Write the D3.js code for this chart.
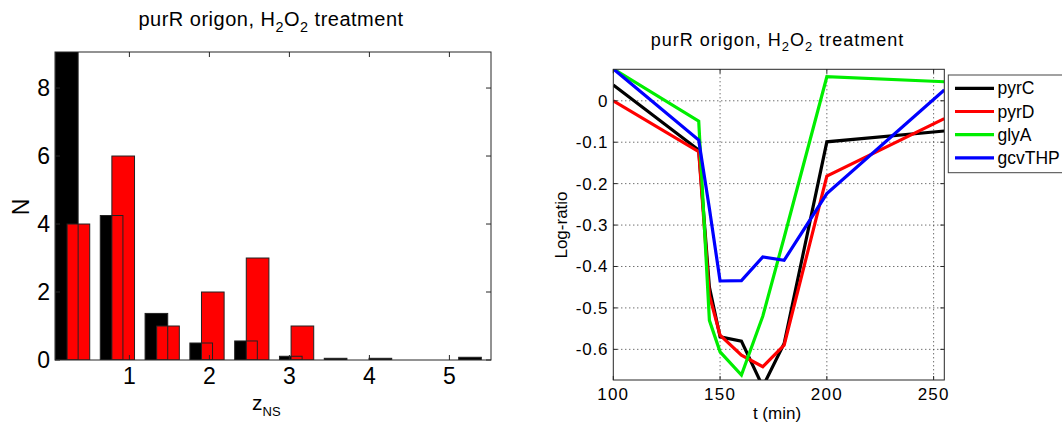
<!DOCTYPE html>
<html><head><meta charset="utf-8">
<script src="https://cdn.jsdelivr.net/npm/d3@7"></script>
<style>
body{margin:0;background:#fff;}
svg{display:block;font-family:Arial,"Liberation Sans",Helvetica,sans-serif;}
</style></head>
<body><svg id="c" width="1062" height="426"></svg>
<script>
// ---------- Left: histogram data ----------
const binCenters = [0.29,0.85,1.41,1.97,2.53,3.09,3.65,4.21,4.77,5.33];
const blackCounts = [9.6,4.25,1.37,0.5,0.56,0.11,0.05,0.05,0,0.08];
const redCounts   = [4,6,1,2,3,1,0,0,0,0];
const histXTicks = [1,2,3,4,5];
const histYTicks = [0,2,4,6,8];

// ---------- Right: time series data ----------
const times  = [100,140,145,150,160,170,180,200,255];
const pyrC   = [0.038,-0.119,-0.45,-0.570,-0.580,-0.69,-0.586,-0.099,-0.073];
const pyrD   = [0.000,-0.123,-0.47,-0.566,-0.614,-0.642,-0.590,-0.182,-0.043];
const glyA   = [0.077,-0.049,-0.53,-0.606,-0.662,-0.520,-0.33,0.058,0.046];
const gcvTHP = [0.077,-0.095,-0.26,-0.435,-0.434,-0.377,-0.385,-0.224,0.026];
const seriesNames  = ["pyrC","pyrD","glyA","gcvTHP"];
const seriesColors = ["#000000","#ff0000","#00ee00","#0000ff"];
const lineXTicks = [100,150,200,250];
const lineYTicks = [0,-0.1,-0.2,-0.3,-0.4,-0.5,-0.6];
const lineYTickLabels = ["0","-0.1","-0.2","-0.3","-0.4","-0.5","-0.6"];

const svg = d3.select("#c");
const axisColor = "#262626";

function title(g, x, y, size, ls){
  const t = g.append("text").attr("x",x).attr("y",y).attr("text-anchor","middle")
    .attr("font-size",size).attr("letter-spacing",ls).attr("fill","#000");
  t.append("tspan").text("purR origon, H");
  t.append("tspan").text("2").attr("font-size",size*0.72).attr("dy",size*0.3);
  t.append("tspan").text("O").attr("dy",-size*0.3);
  t.append("tspan").text("2").attr("font-size",size*0.72).attr("dy",size*0.3);
  t.append("tspan").text(" treatment").attr("dy",-size*0.3);
}

// ================= LEFT CHART =================
{
  const L=55,R=491,T=52,B=360;
  const x = d3.scaleLinear().domain([0.07,5.52]).range([L,R]);
  const y = d3.scaleLinear().domain([0,9.06]).range([B,T]);
  const g = svg.append("g");
  const clip = svg.append("clipPath").attr("id","clipL");
  clip.append("rect").attr("x",L).attr("y",T).attr("width",R-L).attr("height",B-T);
  const bars = g.append("g").attr("clip-path","url(#clipL)");
  const bw = 0.283, off = 0.0725;
  const data = binCenters.map((c,i)=>({c,b:blackCounts[i],r:redCounts[i]}));
  bars.selectAll(".bk").data(data).join("rect")
    .attr("x",d=>x(d.c-off-bw/2)).attr("width",d=>x(d.c-off+bw/2)-x(d.c-off-bw/2))
    .attr("y",d=>y(d.b)).attr("height",d=>y(0)-y(d.b)).attr("fill","#000");
  bars.selectAll(".rd").data(data.filter(d=>d.r>0)).join("rect")
    .attr("x",d=>x(d.c+off-bw/2)).attr("width",d=>x(d.c+off+bw/2)-x(d.c+off-bw/2))
    .attr("y",d=>y(d.r)).attr("height",d=>y(0)-y(d.r))
    .attr("fill","#ff0000").attr("stroke","#222").attr("stroke-width",1);
  bars.selectAll(".bo").data(data.filter(d=>d.b>0)).join("rect")
    .attr("x",d=>x(d.c-off-bw/2)).attr("width",d=>x(d.c-off+bw/2)-x(d.c-off-bw/2))
    .attr("y",d=>y(d.b)).attr("height",d=>y(0)-y(d.b))
    .attr("fill","none").attr("stroke","#222").attr("stroke-width",1);

  g.append("rect").attr("x",L).attr("y",T).attr("width",R-L).attr("height",B-T)
    .attr("fill","none").attr("stroke",axisColor).attr("stroke-width",1);
  histXTicks.forEach(v=>{
    g.append("line").attr("x1",x(v)).attr("x2",x(v)).attr("y1",B).attr("y2",B-5).attr("stroke",axisColor);
    g.append("line").attr("x1",x(v)).attr("x2",x(v)).attr("y1",T).attr("y2",T+5).attr("stroke",axisColor);
    g.append("text").attr("x",x(v)).attr("y",384).attr("text-anchor","middle").attr("font-size",23).text(v);
  });
  histYTicks.forEach(v=>{
    g.append("line").attr("x1",L).attr("x2",L+5).attr("y1",y(v)).attr("y2",y(v)).attr("stroke",axisColor);
    g.append("line").attr("x1",R).attr("x2",R-5).attr("y1",y(v)).attr("y2",y(v)).attr("stroke",axisColor);
    g.append("text").attr("x",L-5).attr("y",y(v)+8.3).attr("text-anchor","end").attr("font-size",23).text(v);
  });
  title(g, 271, 26, 20, 0.5);
  g.append("text").attr("transform","translate(28.5,207) rotate(-90)").attr("text-anchor","middle")
    .attr("font-size",23).text("N");
  const zl = g.append("text").attr("x",252).attr("y",409.5).attr("font-size",21);
  zl.append("tspan").text("z");
  zl.append("tspan").text("NS").attr("font-size",13).attr("dy",6.5);
}

// ================= RIGHT CHART =================
{
  const L=613.3,R=944.3,T=69.3,B=380;
  const x = d3.scaleLinear().domain([100,255]).range([L,R]);
  const y = d3.scaleLinear().domain([-0.674,0.076]).range([B,T]);
  const g = svg.append("g");
  svg.append("clipPath").attr("id","clipR").append("rect")
    .attr("x",L).attr("y",T).attr("width",R-L).attr("height",B-T);
  lineXTicks.filter(v=>v>100).forEach(v=>{
    g.append("line").attr("x1",x(v)).attr("x2",x(v)).attr("y1",T).attr("y2",B)
      .attr("stroke","#333").attr("stroke-dasharray","1,3").attr("stroke-width",1);
  });
  lineYTicks.forEach(v=>{
    g.append("line").attr("x1",L).attr("x2",R).attr("y1",y(v)).attr("y2",y(v))
      .attr("stroke","#333").attr("stroke-dasharray","1,3").attr("stroke-width",1);
  });
  const allSeries = [pyrC,pyrD,glyA,gcvTHP];
  const line = d3.line().x((d,i)=>x(times[i])).y(d=>y(d));
  const lg = g.append("g").attr("clip-path","url(#clipR)");
  allSeries.forEach((s,k)=>{
    lg.append("path").datum(s).attr("d",line).attr("fill","none")
      .attr("stroke",seriesColors[k]).attr("stroke-width",3.2).attr("stroke-linejoin","miter");
  });
  g.append("rect").attr("x",L).attr("y",T).attr("width",R-L).attr("height",B-T)
    .attr("fill","none").attr("stroke",axisColor).attr("stroke-width",1);
  lineXTicks.forEach(v=>{
    g.append("line").attr("x1",x(v)).attr("x2",x(v)).attr("y1",B).attr("y2",B-4).attr("stroke",axisColor);
    g.append("line").attr("x1",x(v)).attr("x2",x(v)).attr("y1",T).attr("y2",T+4).attr("stroke",axisColor);
    g.append("text").attr("x",x(v)).attr("y",B+20).attr("text-anchor","middle")
      .attr("font-size",17).attr("letter-spacing",1.2).text(v);
  });
  lineYTicks.forEach((v,i)=>{
    g.append("line").attr("x1",L).attr("x2",L+4).attr("y1",y(v)).attr("y2",y(v)).attr("stroke",axisColor);
    g.append("line").attr("x1",R).attr("x2",R-4).attr("y1",y(v)).attr("y2",y(v)).attr("stroke",axisColor);
    g.append("text").attr("x",L-5).attr("y",y(v)+6).attr("text-anchor","end")
      .attr("font-size",17).attr("letter-spacing",0.8).text(lineYTickLabels[i]);
  });
  title(g, 777.5, 46, 18, 1);
  g.append("text").attr("transform","translate(567,225) rotate(-90)").attr("text-anchor","middle")
    .attr("font-size",17).text("Log-ratio");
  g.append("text").attr("x",777).attr("y",419).attr("text-anchor","middle").attr("font-size",17).text("t (min)");
  const lgx=948.3, lgy=75;
  g.append("rect").attr("x",lgx).attr("y",lgy).attr("width",130).attr("height",97.7)
    .attr("fill","#fff").attr("stroke","#444").attr("stroke-width",1);
  seriesNames.forEach((n,k)=>{
    const yy = 88.3 + k*23.2;
    g.append("line").attr("x1",955).attr("x2",994).attr("y1",yy).attr("y2",yy)
      .attr("stroke",seriesColors[k]).attr("stroke-width",3.2);
    g.append("text").attr("x",997.5).attr("y",yy+6).attr("font-size",17.5).text(n);
  });
}
</script></body></html>
